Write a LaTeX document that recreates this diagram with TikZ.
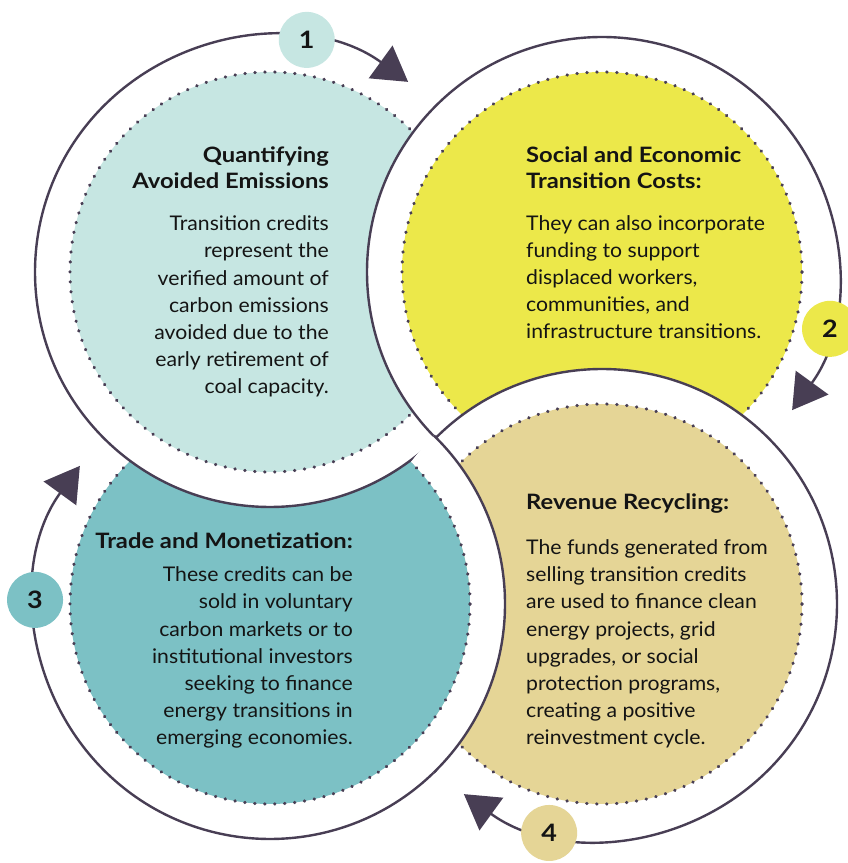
\documentclass[tikz,border=0pt]{standalone}
\usepackage{fontspec}
\setmainfont{Lato}[FakeStretch=1.05]
\newfontfamily\headfont{Lato}[FakeStretch=1.12]
\usetikzlibrary{arrows.meta}
\definecolor{ringgrey}{RGB}{72,62,84}
\definecolor{paleteal}{RGB}{198,230,226}
\definecolor{lemon}{RGB}{236,232,74}
\definecolor{deepteal}{RGB}{124,193,197}
\definecolor{sand}{RGB}{229,213,150}
\definecolor{inkblack}{RGB}{20,20,20}

\begin{document}
\begin{tikzpicture}[x=1pt, y=1pt,
  ring/.style={draw=ringgrey, line width=2.4pt},
  cyclearrow/.style={ring, -{Triangle[length=34pt, width=40pt]}},
  blob/.style={draw=ringgrey, line width=3.2pt, dash pattern=on 0.4pt off 9.57pt, line cap=round},
  badge/.style={circle, minimum size=56pt, inner sep=0pt, text=inkblack,
                font=\fontsize{24}{24}\headfont\bfseries},
  heading/.style={inner sep=0pt, text=inkblack, font=\fontsize{21.2}{26}\headfont\bfseries},
  blurb/.style={inner sep=0pt, text=inkblack, font=\fontsize{20.2}{27.2}\selectfont},
]
\useasboundingbox (0,0) rectangle (848,863);

% circle centres, 332pt apart; every ring passes through the middle
\coordinate (A) at (270,591);
\coordinate (B) at (602,591);
\coordinate (C) at (270,259);
\coordinate (D) at (602,259);

% 3: trade (bottom left)
\fill[white] (C) circle (235);
\fill[deepteal] (C) circle (200);
\draw[blob] (C) circle (200);
\draw[cyclearrow] (C) ++(135:235) arc[start angle=495, end angle=144, radius=235];
\path (C) ++(179:235) node[badge, fill=deepteal] (n3) {3};
\node[heading, anchor=base east] (tradehead) at (353,314) {Trade and Monetization:};
\node[blurb, align=right, anchor=base east] (tradetext) at (353,118)
  {These credits can be\\sold in voluntary\\carbon markets or to\\institutional investors\\seeking to finance\\energy transitions in\\emerging economies.};

% 1: avoided emissions (top left)
\fill[white] (A) circle (235);
\fill[paleteal] (A) circle (200);
\draw[blob] (A) circle (200);
\draw[cyclearrow] (A) ++(45:235) arc[start angle=405, end angle=54, radius=235];
\path (A) ++(81:235) node[badge, fill=paleteal] (n1) {1};
\node[heading, align=right, anchor=base east] (avoidhead) at (329,674)
  {Quantifying\\Avoided Emissions};
\node[blurb, align=right, anchor=base east] (avoidtext) at (329,469)
  {Transition credits\\represent the\\verified amount of\\carbon emissions\\avoided due to the\\early retirement of\\coal capacity.};

% 2: transition costs (top right)
\fill[white] (B) circle (235);
\fill[lemon] (B) circle (200);
\draw[blob] (B) circle (200);
\draw[cyclearrow] (B) ++(315:235) arc[start angle=315, end angle=-36, radius=235];
\path (B) ++(-14:235) node[badge, fill=lemon] (n2) {2};
\node[heading, align=left, anchor=base west] (costhead) at (526,674)
  {Social and Economic\\Transition Costs:};
\node[blurb, align=left, anchor=base west] (costtext) at (526,524)
  {They can also incorporate\\funding to support\\displaced workers,\\communities, and\\infrastructure transitions.};

% 4: revenue recycling (bottom right)
\fill[white] (D) circle (235);
\fill[sand] (D) circle (200);
\draw[blob] (D) circle (200);
\draw[cyclearrow] (D) ++(225:235) arc[start angle=225, end angle=-126, radius=235];
\path (D) ++(-103:235) node[badge, fill=sand] (n4) {4};
\node[heading, anchor=base west] (revhead) at (526,353) {Revenue Recycling:};
\node[blurb, align=left, anchor=base west] (revtext) at (526,118)
  {The funds generated from\\selling transition credits\\are used to finance clean\\energy projects, grid\\upgrades, or social\\protection programs,\\creating a positive\\reinvestment cycle.};

% circle 3 goes back over circle 4 where they overlap
\begin{scope}
  \clip (D) circle (238);
  \fill[white, even odd rule] (C) circle (235) (C) circle (200);
  \fill[deepteal] (C) circle (200);
  \draw[blob] (C) circle (200);
  \draw[ring] (C) circle (235);
\end{scope}
\end{tikzpicture}
\end{document}
